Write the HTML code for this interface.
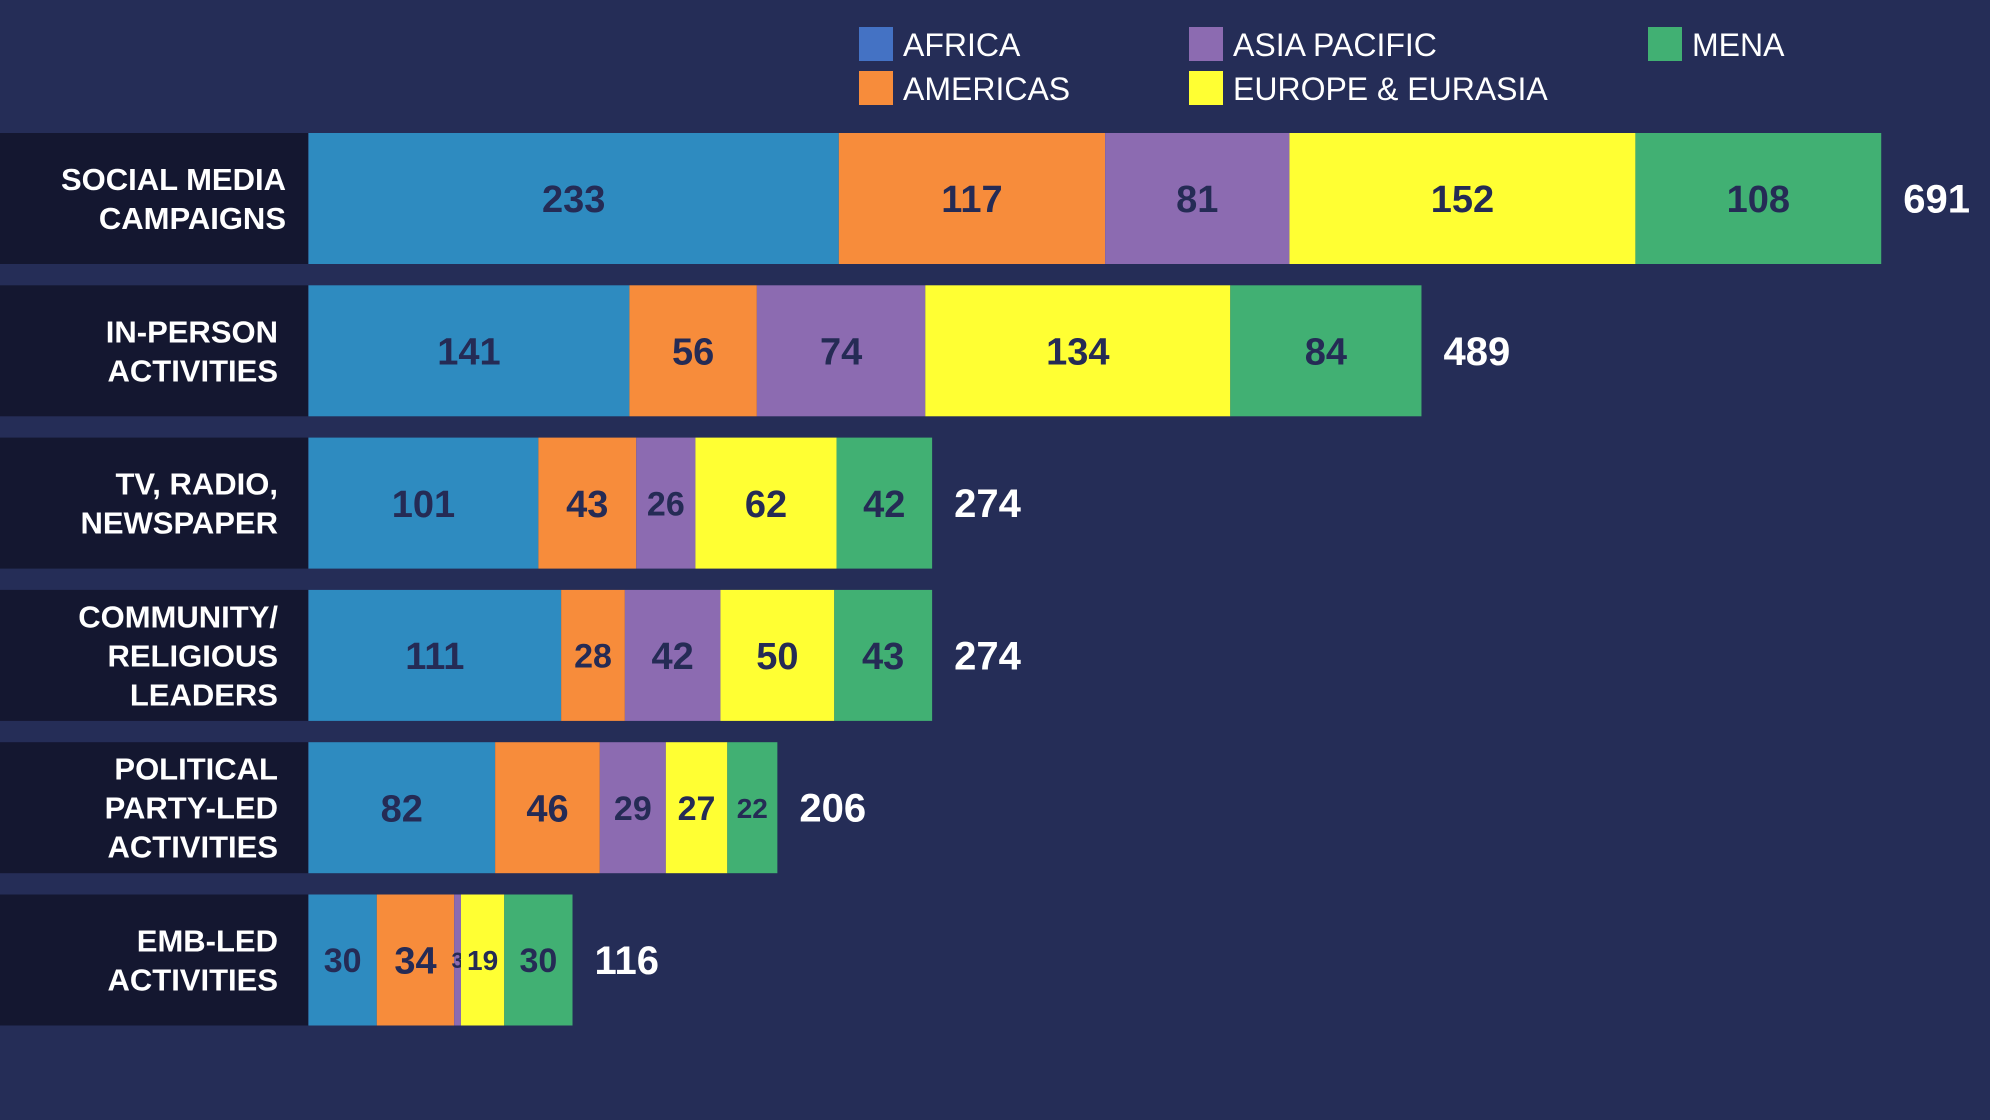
<!DOCTYPE html>
<html><head><meta charset="utf-8"><style>
html,body{margin:0;padding:0;background:#252d57;}
svg{display:block;font-family:"Liberation Sans",sans-serif;}
</style></head><body>
<svg id="chart" width="1990" height="1120" viewBox="0 0 1990 1120">
<rect width="1990" height="1120" fill="#252d57"/>
<g id="legend"></g>
<g id="rows"></g>
</svg>
<script>
const categories = [["SOCIAL MEDIA","CAMPAIGNS"],["IN-PERSON","ACTIVITIES"],["TV, RADIO,","NEWSPAPER"],["COMMUNITY/","RELIGIOUS","LEADERS"],["POLITICAL","PARTY-LED","ACTIVITIES"],["EMB-LED","ACTIVITIES"]];
const seriesNames = ["AFRICA","AMERICAS","ASIA PACIFIC","EUROPE & EURASIA","MENA"];
const africa = [233,141,101,111,82,30];
const americas = [117,56,43,28,46,34];
const asiaPacific = [81,74,26,42,29,3];
const europe = [152,134,62,50,27,19];
const mena = [108,84,42,43,22,30];
const totals = [691,489,274,274,206,116];

const series=[africa,americas,asiaPacific,europe,mena];
const colors=["#2e8bc0","#f78c3b","#8c6bb1","#ffff33","#41b073"];
const legendColors=["#4472c4","#f78c3b","#8c6bb1","#ffff33","#41b073"];
const NS="http://www.w3.org/2000/svg";
const x0=308.5, pxPer=2.276;
function xs(v){return x0+v*pxPer;}
const rowTop0=133, rowStep=152.3, rowH=131;
function ys(i){return rowTop0+i*rowStep;}
function mk(tag,attrs,parent){const e=document.createElementNS(NS,tag);for(const k in attrs)e.setAttribute(k,attrs[k]);parent.appendChild(e);return e;}
const rows=document.getElementById('rows');
const legend=document.getElementById('legend');
// legend
const legPos=[[859,27],[859,71],[1189,27],[1189,71],[1648,27]];
seriesNames.forEach((n,i)=>{
  const r=mk('rect',{x:legPos[i][0],y:legPos[i][1],width:34,height:34,fill:legendColors[i]},legend);
  
  
  const t=mk('text',{x:legPos[i][0]+44,y:legPos[i][1]+29,fill:'#ffffff','font-size':32},legend);
  t.textContent=n;
  
  
});
categories.forEach((cat,i)=>{
  const y=ys(i);
  const p=mk('rect',{x:0,y:y,width:308,height:rowH,fill:'#141730'},rows);
  
  
  const lh=39, cy=y+rowH/2, start=cy-(cat.length-1)*lh/2+11;
  cat.forEach((line,j)=>{
    const t=mk('text',{x:i==0?286:278,y:start+j*lh,fill:'#ffffff','font-size':31,'font-weight':'bold','text-anchor':'end'},rows);
    t.textContent=line;
    
    
  });
  let acc=0;
  series.forEach((s,k)=>{
    const v=s[i];
    const r=mk('rect',{x:xs(acc),y:y,width:xs(acc+v)-xs(acc),height:rowH,fill:colors[k]},rows);
    
    
    const w=v*pxPer;
    const fs=w<30?22:(w<55?28:(w<75?34:38));
    const t=mk('text',{x:xs(acc+v/2),y:cy+fs*0.36,fill:'#252b55','font-size':fs,'font-weight':'bold','text-anchor':'middle'},rows);
    t.textContent=v;
    
    
    acc+=v;
  });
  const tt=mk('text',{x:xs(acc)+22,y:cy+14,fill:'#ffffff','font-size':40,'font-weight':'bold'},rows);
  tt.textContent=totals[i];
  
  
});
</script>
</body></html>
